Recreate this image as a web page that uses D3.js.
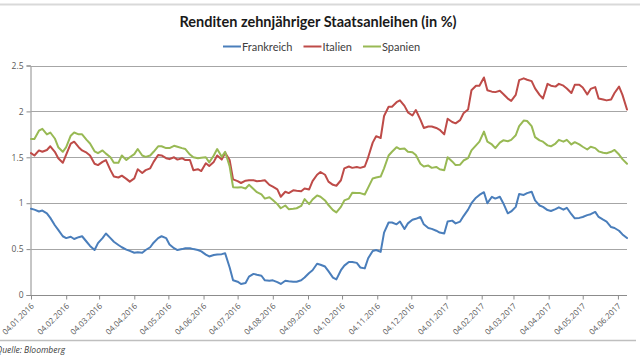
<!DOCTYPE html>
<html>
<head>
<meta charset="utf-8">
<script src="https://cdn.jsdelivr.net/npm/d3@7"></script>
<style>
  html, body { margin: 0; padding: 0; background: #fff; }
  svg { display: block; }
</style>
</head>
<body>
<svg id="chart" width="640" height="360"></svg>
<script>
// ---------- DATA ----------
const title = "Renditen zehnjähriger Staatsanleihen (in %)";
const seriesNames = ["Frankreich", "Italien", "Spanien"];
const source = "Quelle: Bloomberg";

const dates = [
"2016-01-04","2016-01-07","2016-01-11","2016-01-14","2016-01-18","2016-01-21","2016-01-25","2016-01-28",
"2016-02-01","2016-02-04","2016-02-08","2016-02-11","2016-02-15","2016-02-18","2016-02-22","2016-02-25","2016-02-29",
"2016-03-03","2016-03-07","2016-03-10","2016-03-14","2016-03-17","2016-03-21","2016-03-24","2016-03-28","2016-03-31",
"2016-04-04","2016-04-07","2016-04-11","2016-04-14","2016-04-18","2016-04-21","2016-04-25","2016-04-28",
"2016-05-02","2016-05-05","2016-05-09","2016-05-12","2016-05-16","2016-05-19","2016-05-23","2016-05-26","2016-05-30",
"2016-06-02","2016-06-06","2016-06-09","2016-06-13","2016-06-16","2016-06-20","2016-06-23","2016-06-27","2016-06-30",
"2016-07-04","2016-07-07","2016-07-11","2016-07-14","2016-07-18","2016-07-21","2016-07-25","2016-07-28",
"2016-08-01","2016-08-04","2016-08-08","2016-08-11","2016-08-15","2016-08-18","2016-08-22","2016-08-25","2016-08-29",
"2016-09-01","2016-09-05","2016-09-08","2016-09-12","2016-09-15","2016-09-19","2016-09-22","2016-09-26","2016-09-29",
"2016-10-03","2016-10-06","2016-10-10","2016-10-13","2016-10-17","2016-10-20","2016-10-24","2016-10-27","2016-10-31",
"2016-11-03","2016-11-07","2016-11-10","2016-11-14","2016-11-17","2016-11-21","2016-11-24","2016-11-28",
"2016-12-01","2016-12-05","2016-12-08","2016-12-12","2016-12-15","2016-12-19","2016-12-22","2016-12-26","2016-12-29",
"2017-01-02","2017-01-05","2017-01-09","2017-01-12","2017-01-16","2017-01-19","2017-01-23","2017-01-26","2017-01-30",
"2017-02-02","2017-02-06","2017-02-09","2017-02-13","2017-02-16","2017-02-20","2017-02-23","2017-02-27",
"2017-03-02","2017-03-06","2017-03-09","2017-03-13","2017-03-16","2017-03-20","2017-03-23","2017-03-27","2017-03-30",
"2017-04-03","2017-04-06","2017-04-10","2017-04-13","2017-04-17","2017-04-20","2017-04-24","2017-04-27",
"2017-05-01","2017-05-04","2017-05-08","2017-05-11","2017-05-15","2017-05-18","2017-05-22","2017-05-25","2017-05-29",
"2017-06-01","2017-06-05","2017-06-08","2017-06-12"
];

const frankreich = [
0.94,0.93,0.91,0.92,0.89,0.84,0.76,0.71,0.64,0.62,0.635,0.61,0.63,0.64,0.58,0.535,0.49,0.565,0.62,0.67,
0.62,0.58,0.545,0.52,0.495,0.48,0.46,0.465,0.46,0.49,0.52,0.57,0.62,0.64,0.62,0.55,0.51,0.49,0.50,0.51,
0.51,0.50,0.49,0.475,0.44,0.42,0.435,0.44,0.445,0.455,0.30,0.16,0.145,0.12,0.13,0.20,0.23,0.22,0.21,0.16,
0.155,0.16,0.14,0.12,0.155,0.15,0.145,0.145,0.16,0.19,0.24,0.27,0.34,0.33,0.31,0.26,0.19,0.17,0.27,0.32,
0.36,0.36,0.35,0.30,0.29,0.40,0.48,0.49,0.47,0.68,0.79,0.79,0.77,0.80,0.72,0.78,0.82,0.83,0.85,0.77,
0.73,0.72,0.70,0.68,0.67,0.80,0.81,0.78,0.80,0.86,0.93,1.00,1.06,1.09,1.12,1.00,1.07,1.05,1.07,1.00,
0.89,0.91,0.96,1.10,1.09,1.11,1.125,1.03,0.975,0.96,0.925,0.915,0.935,0.955,0.93,0.95,0.88,0.835,0.84,0.85,
0.87,0.88,0.905,0.85,0.82,0.80,0.74,0.73,0.70,0.66,0.62
];

const italien = [
1.545,1.52,1.575,1.56,1.58,1.62,1.56,1.49,1.44,1.53,1.65,1.67,1.61,1.575,1.55,1.52,1.43,1.415,1.45,1.47,
1.36,1.29,1.28,1.30,1.265,1.235,1.27,1.37,1.33,1.36,1.38,1.45,1.525,1.52,1.49,1.48,1.50,1.475,1.49,1.47,
1.47,1.36,1.37,1.35,1.435,1.405,1.45,1.52,1.475,1.55,1.47,1.26,1.24,1.22,1.245,1.25,1.25,1.24,1.245,1.25,
1.20,1.18,1.15,1.07,1.125,1.11,1.14,1.135,1.13,1.16,1.15,1.24,1.31,1.34,1.31,1.235,1.20,1.19,1.25,1.38,
1.40,1.385,1.395,1.385,1.40,1.50,1.66,1.73,1.71,1.95,2.05,2.05,2.10,2.12,2.06,1.99,1.955,2.015,1.91,1.82,
1.835,1.835,1.82,1.80,1.75,1.92,1.885,1.87,1.905,1.98,2.02,2.23,2.28,2.28,2.37,2.23,2.215,2.21,2.225,2.19,
2.14,2.115,2.18,2.34,2.36,2.345,2.33,2.25,2.18,2.14,2.30,2.28,2.27,2.30,2.28,2.25,2.20,2.29,2.29,2.26,
2.185,2.245,2.265,2.14,2.13,2.12,2.13,2.20,2.27,2.18,2.02
];

const spanien = [
1.70,1.70,1.79,1.81,1.75,1.77,1.705,1.61,1.56,1.61,1.735,1.77,1.75,1.75,1.69,1.65,1.565,1.545,1.575,1.54,
1.50,1.44,1.44,1.52,1.47,1.50,1.535,1.59,1.52,1.505,1.52,1.56,1.62,1.62,1.60,1.60,1.625,1.615,1.60,1.59,
1.53,1.50,1.49,1.495,1.50,1.445,1.52,1.59,1.505,1.56,1.40,1.175,1.17,1.175,1.16,1.20,1.155,1.12,1.095,1.05,
1.065,1.035,0.99,0.945,0.975,0.935,0.94,0.945,0.97,1.045,0.99,1.04,1.085,1.07,1.03,0.98,0.925,0.90,0.96,1.03,
1.05,1.115,1.11,1.11,1.095,1.17,1.27,1.28,1.29,1.38,1.52,1.56,1.61,1.59,1.595,1.56,1.555,1.525,1.43,1.40,
1.41,1.385,1.395,1.37,1.36,1.50,1.455,1.415,1.42,1.465,1.49,1.575,1.63,1.67,1.78,1.67,1.64,1.60,1.66,1.685,
1.675,1.69,1.74,1.84,1.90,1.895,1.84,1.72,1.685,1.67,1.63,1.62,1.65,1.69,1.67,1.69,1.64,1.665,1.64,1.615,
1.585,1.615,1.60,1.565,1.55,1.545,1.56,1.58,1.53,1.48,1.43
];

const yTicks = [0, 0.5, 1, 1.5, 2, 2.5];
const xTickDates = [
"2016-01-04","2016-02-04","2016-03-04","2016-04-04","2016-05-04","2016-06-04","2016-07-04","2016-08-04","2016-09-04",
"2016-10-04","2016-11-04","2016-12-04","2017-01-04","2017-02-04","2017-03-04","2017-04-04","2017-05-04","2017-06-04"
];
const xDomain = ["2016-01-04", "2017-06-12"];
const colors = ["#4a7ebb", "#be4b48", "#98b954"];

// ---------- CHART ----------
const parse = d3.timeParse("%Y-%m-%d");
const fmt = d3.timeFormat("%d.%m.%Y");
const svg = d3.select("#chart");
const W = 640, H = 360;
const m = { left: 30.5, right: 627, top: 65.5, bottom: 295 };

const x = d3.scaleTime().domain(xDomain.map(parse)).range([m.left + 0.5, m.right]);
const y = d3.scaleLinear().domain([0, 2.5]).range([m.bottom, m.top]);

// frame lines
svg.append("line").attr("x1", 0).attr("x2", W).attr("y1", 4.5).attr("y2", 4.5)
  .attr("stroke", "#d9d9d9").attr("stroke-width", 2);
svg.append("line").attr("x1", 0).attr("x2", 636).attr("y1", 340.5).attr("y2", 340.5)
  .attr("stroke", "#bfbfbf").attr("stroke-width", 1.5);

// title
svg.append("text").attr("x", 318).attr("y", 27)
  .attr("text-anchor", "middle")
  .attr("font-family", "Lato, 'Open Sans', sans-serif")
  .attr("font-weight", "bold").attr("font-size", 14.5).attr("fill", "#1a1a1a")
  .text(title);

// legend
const legend = svg.append("g").attr("font-family", "Lato, 'Open Sans', sans-serif")
  .attr("font-size", 11).attr("fill", "#404040");
let lx = 223;
seriesNames.forEach((name, i) => {
  legend.append("line").attr("x1", lx).attr("x2", lx + 18).attr("y1", 46.5).attr("y2", 46.5)
    .attr("stroke", colors[i]).attr("stroke-width", 2);
  const t = legend.append("text").attr("x", lx + 19).attr("y", 50.5).text(name);
  const w = t.node().getComputedTextLength();
  lx = lx + 19 + w + 11;
});

// y grid + labels
const yAxis = d3.axisLeft(y).tickValues(yTicks).tickSize(4).tickFormat(d => String(d));
const gy = svg.append("g").attr("transform", `translate(${m.left},0)`).call(yAxis);
gy.select(".domain").attr("stroke", "#8c8c8c");
gy.selectAll(".tick line").attr("stroke", "#8c8c8c");
gy.selectAll(".tick text").attr("font-family", "'Open Sans', sans-serif")
  .attr("font-size", 8.5).attr("fill", "#595959").attr("x", -7);

svg.append("g").selectAll("line").data(yTicks.filter(d => d > 0)).join("line")
  .attr("x1", m.left).attr("x2", m.right)
  .attr("y1", d => Math.round(y(d)) + 0.5).attr("y2", d => Math.round(y(d)) + 0.5)
  .attr("stroke", "#a6a6a6").attr("stroke-width", 1);

// x axis
const xAxis = d3.axisBottom(x).tickValues(xTickDates.map(parse)).tickSize(4).tickFormat(fmt);
const gx = svg.append("g").attr("transform", `translate(0,${m.bottom + 0.5})`).call(xAxis);
gx.select(".domain").attr("stroke", "#8c8c8c").attr("d", `M${m.left},0H${m.right}`);
gx.selectAll(".tick line").attr("stroke", "#8c8c8c");
gx.selectAll(".tick text")
  .attr("font-family", "'Open Sans', sans-serif").attr("font-size", 8)
  .attr("fill", "#595959")
  .attr("text-anchor", "end")
  .attr("dy", null)
  .attr("x", 0).attr("y", 0)
  .attr("transform", "translate(3,11) rotate(-45)");

// lines
const seriesData = [frankreich, italien, spanien];
const line = d3.line().x((d, i) => x(parse(dates[i]))).y(d => y(d));
seriesData.forEach((vals, i) => {
  svg.append("path").datum(vals)
    .attr("fill", "none").attr("stroke", colors[i]).attr("stroke-width", 2)
    .attr("stroke-linejoin", "round").attr("stroke-linecap", "round")
    .attr("d", line);
});

// source
svg.append("text").attr("x", -4).attr("y", 353)
  .attr("font-family", "'Open Sans', sans-serif").attr("font-style", "italic")
  .attr("font-size", 8.5).attr("fill", "#404040")
  .text(source);
</script>
</body>
</html>
